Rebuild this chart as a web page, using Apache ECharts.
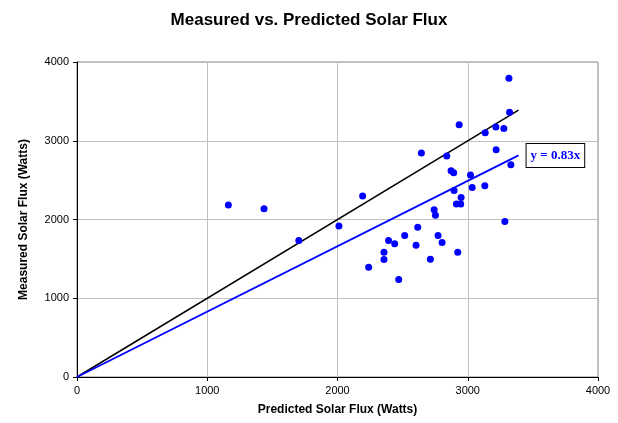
<!DOCTYPE html>
<html><head><meta charset="utf-8">
<script src="https://cdn.jsdelivr.net/npm/echarts@6/dist/echarts.min.js"></script>
<style>html,body{margin:0;padding:0;background:#fff}#c{width:618px;height:423px}</style>
</head><body><div id="c"></div>
<script>
const predicted = [1162,1436,1703,2011,2193,2239,2357,2357,2392,2439,2470,
  3316,3321,2934,3134,3216,3277,2644,2839,3218,2872,2892,3331,3021,3034,3131,
  2895,2949,2913,2946,2742,2752,3285,2516,2616,2603,2772,2803,2923,2713];
const measured = [2183,2136,1733,1916,2297,1395,1585,1492,1733,1691,1237,
  3793,3361,3204,3102,3174,3157,2844,2806,2886,2619,2594,2695,2564,2407,2428,
  2369,2280,2196,2196,2123,2055,1975,1797,1903,1674,1797,1708,1585,1496];
const lineEnd = 3390;
const fitSlope = 0.83;
const fitLabel = 'y = 0.83x';
const xTicks = [0,1000,2000,3000,4000];
const yTicks = [0,1000,2000,3000,4000];

const pts = predicted.map((x,i)=>[x, measured[i]]);
const chart = echarts.init(document.getElementById('c'));
const axisCommon = {
  min: 0, max: 4000, interval: 1000,
  axisLine: {show: true, onZero: false, lineStyle: {color: '#000', width: 1}},
  axisTick: {show: true, length: 4, lineStyle: {color: '#000'}},
  axisLabel: {color: '#000', fontFamily: 'Liberation Sans, Arial', fontSize: 11, margin: 8,
    formatter: v => String(v)},
  splitLine: {show: true, lineStyle: {color: '#c0c0c0', width: 1}},
  nameTextStyle: {color: '#000', fontFamily: 'Liberation Sans, Arial', fontSize: 12, fontWeight: 'bold'},
  nameLocation: 'middle'
};
chart.setOption({
  animation: false,
  backgroundColor: '#fff',
  title: {text: 'Measured vs. Predicted Solar Flux', left: 'center', top: 7,
    textStyle: {fontFamily: 'Liberation Sans, Arial', fontSize: 17, fontWeight: 'bold', color: '#000'}},
  grid: {left: 77, right: 20, top: 62, bottom: 46, show: true, borderColor: '#808080', borderWidth: 1},
  xAxis: Object.assign({}, axisCommon, {type: 'value', name: 'Predicted Solar Flux (Watts)', nameGap: 27}),
  yAxis: Object.assign({}, axisCommon, {type: 'value', name: 'Measured Solar Flux (Watts)', nameGap: 47}),
  series: [
    {type: 'line', data: [[0,0],[lineEnd,lineEnd]], symbol: 'none',
      lineStyle: {color: '#000', width: 1.5}, z: 2},
    {type: 'line', data: [[0,0],[lineEnd, lineEnd*fitSlope]], symbol: 'none',
      lineStyle: {color: '#0000ff', width: 1.8}, z: 3,
      endLabel: {show: true, formatter: fitLabel, distance: 8,
        color: '#0000ff', fontFamily: 'Liberation Serif, Times New Roman', fontWeight: 'bold', fontSize: 13,
        backgroundColor: '#fff', borderColor: '#000', borderWidth: 1, padding: [5,4,5,4]}},
    {type: 'scatter', data: pts, symbol: 'circle', symbolSize: 7,
      itemStyle: {color: '#0000ff', opacity: 1}, z: 4}
  ]
});
</script></body></html>
